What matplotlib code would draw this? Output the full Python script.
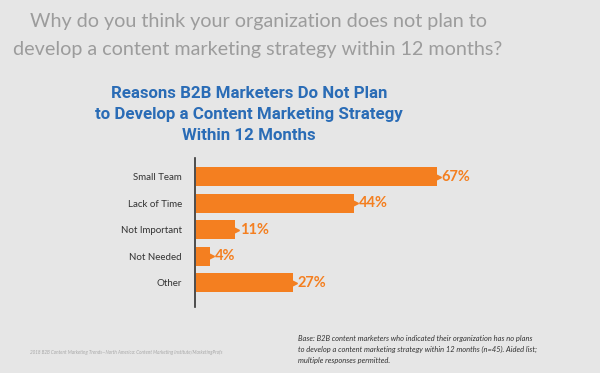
import matplotlib.pyplot as plt

# data
categories = ["Small Team", "Lack of Time", "Not Important", "Not Needed", "Other"]
values = [67, 44, 11, 4, 27]
value_labels = ["67%", "44%", "11%", "4%", "27%"]

bg = "#e6e6e6"
orange = "#f47f20"
blue = "#2a6cb6"

W, H = 600, 373
fig = plt.figure(figsize=(6.0, 3.73), dpi=100, facecolor=bg)

# header question
fig.text(258 / W, 1 - 22 / H, "Why do you think your organization does not plan to",
         ha="center", va="center", fontsize=14.2, color="#9c9c9c", family="Lato")
fig.text(258 / W, 1 - 50 / H, "develop a content marketing strategy within 12 months?",
         ha="center", va="center", fontsize=14.2, color="#9c9c9c", family="Lato")

# blue chart title
title_lines = ["Reasons B2B Marketers Do Not Plan",
               "to Develop a Content Marketing Strategy",
               "Within 12 Months"]
for i, line in enumerate(title_lines):
    fig.text(249 / W, 1 - (94 + i * 20.5) / H, line, ha="center", va="center",
             fontsize=12.2, color=blue, weight="bold",
             family=["Liberation Sans Narrow", "Roboto"])

# axes placement in pixels
ax_left, ax_top, ax_bottom, ax_right = 194.5, 158, 307, 594
ax = fig.add_axes([ax_left / W, 1 - ax_bottom / H,
                   (ax_right - ax_left) / W, (ax_bottom - ax_top) / H])
ax.set_facecolor(bg)

ypos = list(range(len(categories)))
ax.barh(ypos, values, height=0.72, color=orange, left=0.3)
ax.plot([v + 0.3 for v in values], ypos, ls="none", marker=">", ms=5.5,
        color=orange, mec=orange)

for y, v, lab in zip(ypos, values, value_labels):
    ax.annotate(lab, (v + 0.3, y), xytext=(3.5, 0), textcoords="offset points",
                ha="left", va="center", fontsize=10.5, color=orange,
                weight="bold", family="Lato")

ax.set_xlim(0, (ax_right - ax_left) / 3.6)
ax.set_ylim(4.92, -0.70)
ax.set_yticks(ypos)
ax.set_yticklabels(categories, fontsize=7, color="#333333", family="Lato")
ax.tick_params(axis="y", length=0, pad=9)
ax.set_xticks([])
for s in ["top", "right", "bottom"]:
    ax.spines[s].set_visible(False)
ax.spines["left"].set_color("#333333")
ax.spines["left"].set_linewidth(1.2)

# footnotes
fig.text(30 / W, 1 - 352 / H,
         "2018 B2B Content Marketing Trends\u2014North America: Content Marketing Institute/MarketingProfs",
         ha="left", va="center", fontsize=3.3, color="#a8a8a8", style="italic",
         family="Lato")
base_lines = ["Base: B2B content marketers who indicated their organization has no plans",
              "to develop a content marketing strategy within 12 months (n=45). Aided list;",
              "multiple responses permitted."]
for i, line in enumerate(base_lines):
    fig.text(298 / W, 1 - (338 + i * 11) / H, line, ha="left", va="center",
             fontsize=5.4, color="#333333", style="italic",
             family=["Liberation Sans Narrow", "Lato"])

fig.savefig("out.png", dpi=100, facecolor=bg)
